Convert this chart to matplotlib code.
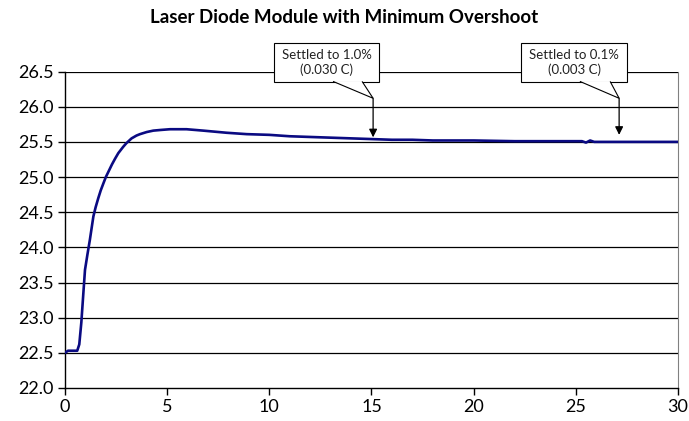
import matplotlib.pyplot as plt
from matplotlib.patches import Rectangle, Polygon

# step response
time_s = [0, 0.15, 0.6, 0.7, 0.8, 0.9, 0.98, 1.1, 1.22, 1.39, 1.5, 1.63,
          1.75, 1.88, 2.0, 2.15, 2.3, 2.45, 2.61, 2.85, 3.0, 3.26, 3.5, 3.67,
          4.0, 4.32, 4.7, 5.14, 5.95, 6.77, 7.9, 8.9, 10, 11, 12, 13, 14,
          15, 16, 17, 18, 20, 22, 24, 25.3, 25.5, 25.7, 25.9, 26.2, 27, 28, 30]
temp_c = [22.5, 22.53, 22.53, 22.62, 22.93, 23.35, 23.68, 23.9, 24.11,
          24.44, 24.57, 24.7, 24.81, 24.91, 25.0, 25.09, 25.18, 25.26, 25.34,
          25.43, 25.48, 25.55, 25.59, 25.61, 25.64, 25.66, 25.67, 25.68,
          25.68, 25.66, 25.63, 25.61, 25.6, 25.58, 25.57, 25.56, 25.55,
          25.54, 25.53, 25.53, 25.52, 25.52, 25.51, 25.51, 25.51, 25.49,
          25.52, 25.5, 25.5, 25.5, 25.5, 25.5]

yticks = [22.0, 22.5, 23.0, 23.5, 24.0, 24.5, 25.0, 25.5, 26.0, 26.5]
xticks = [0, 5, 10, 15, 20, 25, 30]

# callouts: text, arrow x, arrow tip y
notes = ["Settled to 1.0%\n(0.030 C)", "Settled to 0.1%\n(0.003 C)"]
note_x = [15.08, 27.12]
note_tip = [25.565, 25.6]
box_x0 = [10.23, 22.32]
box_x1 = [15.37, 27.51]
ptr_base = [(13.12, 14.54), (25.2, 26.68)]

plt.rcParams['font.family'] = ['Lato', 'DejaVu Sans']

fig = plt.figure(figsize=(6.89, 4.21), dpi=100)
ax = fig.add_axes([0.0943, 0.0784, 0.8897, 0.7516])

for y in yticks[1:]:
    ax.axhline(y, color='black', lw=0.9, zorder=1)

ax.plot(time_s, temp_c, color='#0a0a82', lw=1.9, zorder=3)

ax.set_xlim(0, 30)
ax.set_ylim(22.0, 26.5)
ax.set_xticks(xticks)
ax.set_yticks(yticks)
ax.set_yticklabels(['%.1f' % v for v in yticks])
ax.tick_params(labelsize=13, length=5, width=1, direction='out', pad=3)
ax.spines['top'].set_visible(False)
ax.spines['right'].set_color('#808080')
ax.spines['left'].set_linewidth(1)
ax.spines['bottom'].set_linewidth(1)

box_y0, box_y1 = 26.35, 26.905
ptr_y = 26.12
for i in range(len(notes)):
    ax.add_patch(Rectangle((box_x0[i], box_y0), box_x1[i] - box_x0[i],
                           box_y1 - box_y0, fc='white', ec='black', lw=0.8,
                           clip_on=False, zorder=5))
    b0, b1 = ptr_base[i]
    ax.add_patch(Polygon([(b0, box_y0 + 0.01), (note_x[i], ptr_y),
                          (b1, box_y0 + 0.01)], closed=False, fc='white',
                         ec='black', lw=0.8, clip_on=False, zorder=6))
    ax.text((box_x0[i] + box_x1[i]) / 2, (box_y0 + box_y1) / 2, notes[i],
            ha='center', va='center', fontsize=9.5, linespacing=1.3,
            color='#222222', zorder=7, clip_on=False)
    ax.annotate('', xy=(note_x[i], note_tip[i]), xytext=(note_x[i], ptr_y),
                arrowprops=dict(arrowstyle='-|>', color='black', lw=0.9,
                                mutation_scale=12, shrinkA=0, shrinkB=0),
                annotation_clip=False, zorder=6)

fig.text(0.5, 0.958, 'Laser Diode Module with Minimum Overshoot',
         ha='center', va='center', fontsize=13.5, fontweight='bold')

fig.savefig('out.png', dpi=100)
